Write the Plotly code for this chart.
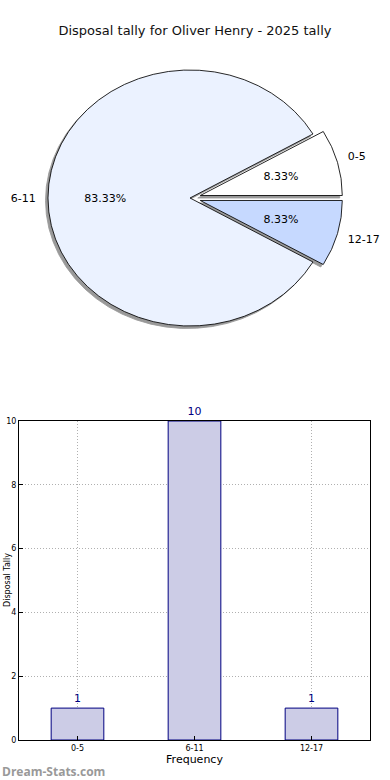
import plotly.graph_objects as go

title = "Disposal tally for Oliver Henry - 2025 tally"
categories = ["0-5", "6-11", "12-17"]
counts = [1, 10, 1]
pie_colors = ["#FFFFFF", "#EBF2FF", "#C6D9FF"]
pulls = [0.075, 0, 0.075]
x_title = "Frequency"
y_title = "Disposal Tally"
watermark = "Dream-Stats.com"

W, H = 390, 780
FONT = "DejaVu Sans"

def dom(cx, cy, size):
    return dict(x=[(cx - size / 2) / W, (cx + size / 2) / W],
                y=[1 - (cy + size / 2) / H, 1 - (cy - size / 2) / H])

R = 128          # vertical radius of the pie (px)
SX = 142 / 128   # horizontal stretch of the pie (the original is an ellipse)
size = 2 * R * (1 + max(pulls))
cx, cy = 190, 198
clear = ["rgba(0,0,0,0)"] * 3
pct = "%{percent:.2%}"
big_only = [pct if v == max(counts) else "" for v in counts]
small_only = ["" if v == max(counts) else pct for v in counts]

fig = go.Figure()
common = dict(labels=categories, values=counts, sort=False, direction="counterclockwise",
              rotation=60, hoverinfo="skip", showlegend=False)
tfont = dict(family=FONT, size=11, color="#000000")
# 0 shadow
fig.add_trace(go.Pie(**common, pull=pulls, domain=dom(cx - 2.5, cy + 2.5, size),
                     marker=dict(colors=["#999999"] * 3, line=dict(color="#999999", width=0.8)),
                     textinfo="none"))
# 1 main pie
fig.add_trace(go.Pie(**common, pull=pulls, domain=dom(cx, cy, size),
                     marker=dict(colors=pie_colors, line=dict(color="#000000", width=0.8)),
                     textinfo="none"))
# 2 percent of the large slice
fig.add_trace(go.Pie(**common, domain=dom(cx, cy, 306),
                     marker=dict(colors=clear, line=dict(width=0)),
                     textinfo="none", texttemplate=big_only,
                     textposition="inside", insidetextorientation="horizontal", textfont=tfont))
# 3 percents of the small slices
fig.add_trace(go.Pie(**common, pull=[0.1, 0, 0.1], domain=dom(cx, cy, 2 * 95 * 1.1),
                     marker=dict(colors=clear, line=dict(width=0)),
                     textinfo="none", texttemplate=small_only,
                     textposition="inside", insidetextorientation="horizontal", textfont=tfont))
# 4 labels outside
fig.add_trace(go.Pie(**common, pull=[0.06, 0, 0.06], domain=dom(cx, cy, 320),
                     marker=dict(colors=clear, line=dict(width=0)),
                     textinfo="label", textposition="outside", outsidetextfont=tfont))

fig.add_trace(go.Bar(x=categories, y=counts, width=0.45,
                     marker=dict(color="#CCCCE6", line=dict(color="#000080", width=1)),
                     text=[str(v) for v in counts], textposition="outside",
                     textfont=dict(family=FONT, size=11, color="#000080"),
                     cliponaxis=False, hoverinfo="skip", showlegend=False,
                     xaxis="x", yaxis="y"))

fig.update_layout(
    width=W, height=H, margin=dict(l=0, r=0, t=0, b=0, autoexpand=False),
    paper_bgcolor="white", plot_bgcolor="white",
    font=dict(family=FONT, color="#000000"),
    title=dict(text=title, x=0.5, xref="paper", xanchor="center", y=1 - 30 / H, yanchor="middle",
               font=dict(family=FONT, size=13, color="#111111")),
    xaxis=dict(domain=[19 / W, 370 / W], range=[-0.5, 2.5], type="category", automargin=False,
               showline=True, linecolor="black", linewidth=1, mirror=True,
               showgrid=True, gridcolor="#b0b0b0", griddash="1px,2px", gridwidth=1,
               ticks="inside", ticklen=4, tickcolor="black",
               tickfont=dict(family=FONT, size=8, color="#000000"),
               title=dict(text=x_title, font=dict(family=FONT, size=11), standoff=2),
               zeroline=False, fixedrange=True),
    yaxis=dict(domain=[1 - 740 / H, 1 - 421 / H], range=[0, 10], dtick=2, automargin=False,
               showline=True, linecolor="black", linewidth=1, mirror=True,
               showgrid=True, gridcolor="#b0b0b0", griddash="1px,2px", gridwidth=1,
               ticks="inside", ticklen=4, tickcolor="black",
               tickfont=dict(family=FONT, size=8, color="#000000"),
               zeroline=False, fixedrange=True),
    annotations=[
        dict(text=watermark, x=0, xanchor="left", y=1 - 771 / H, yanchor="middle",
             xref="paper", yref="paper", showarrow=False,
             font=dict(family="Open Sans", size=12, color="#999999", weight="bold")),
        dict(text=y_title, x=0.5 / W, xanchor="left", y=1 - 580 / H, yanchor="middle",
             xref="paper", yref="paper", showarrow=False, textangle=-90,
             font=dict(family=FONT, size=8, color="#000000")),
    ],
)

post = """
document.body.style.margin='0';document.body.style.padding='0';
var gd = document.getElementById('{plot_id}');
var sx = %f;
var traces = gd.querySelectorAll('.pielayer .trace');
var svgRect = gd.querySelector('.main-svg').getBoundingClientRect();
[0, 1].forEach(function(i){
  var c = gd.calcdata[i][0].cx;
  traces[i].querySelectorAll('path.surface').forEach(function(p){
    p.setAttribute('transform', 'matrix(' + sx + ',0,0,1,' + (c * (1 - sx)) + ',0)');
  });
});
[2, 3].forEach(function(i){
  var c = gd.calcdata[i][0].cx;
  traces[i].querySelectorAll('g.slicetext').forEach(function(g){
    var b = g.getBoundingClientRect();
    var mid = b.left - svgRect.left + b.width / 2;
    g.setAttribute('transform', 'translate(' + ((sx - 1) * (mid - c)) + ',0)');
  });
});
""" % SX

fig.write_html("out.html", post_script=post, config={"displayModeBar": False})
